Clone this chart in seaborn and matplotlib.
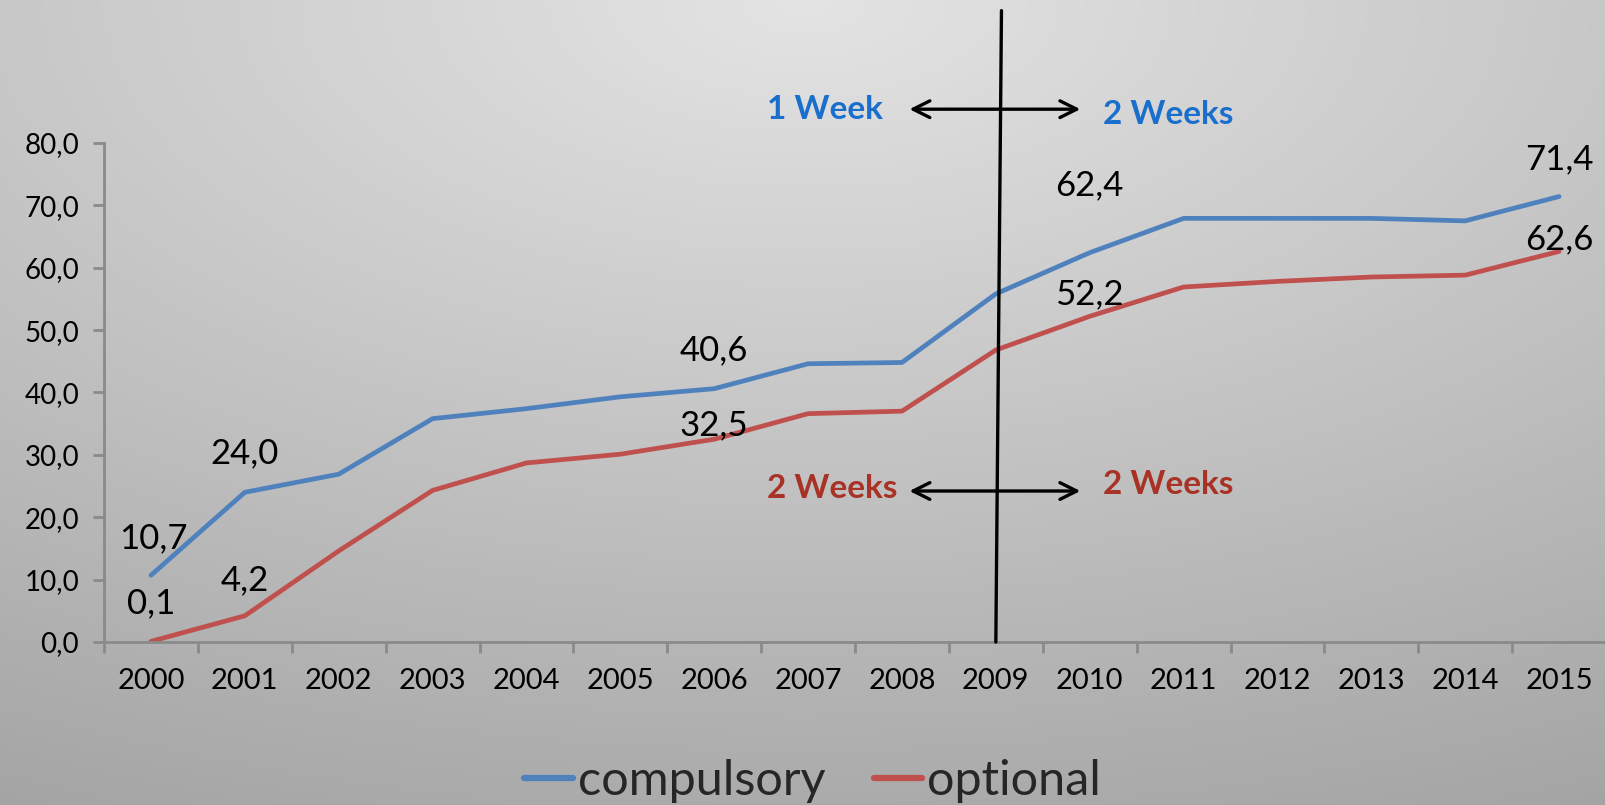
import numpy as np
import pandas as pd
import matplotlib
matplotlib.use("Agg")
import matplotlib.pyplot as plt
import seaborn as sns

years = [2000, 2001, 2002, 2003, 2004, 2005, 2006, 2007,
         2008, 2009, 2010, 2011, 2012, 2013, 2014, 2015]
compulsory = [10.7, 24.0, 26.9, 35.8, 37.4, 39.3, 40.6, 44.6,
              44.8, 55.8, 62.4, 67.9, 67.9, 67.9, 67.5, 71.4]
optional = [0.1, 4.2, 14.6, 24.3, 28.7, 30.1, 32.5, 36.6,
            37.0, 46.8, 52.2, 56.9, 57.8, 58.5, 58.8, 62.6]
series_names = ["compulsory", "optional"]
y_ticks = [0, 10, 20, 30, 40, 50, 60, 70, 80]

# labelled points: (series, year index, x offset px, y offset px)
value_labels = [
    ("compulsory", 0, 2, 37), ("optional", 0, 0, 38),
    ("compulsory", 1, 0, 39), ("optional", 1, 0, 36),
    ("compulsory", 6, 0, 38), ("optional", 6, 0, 14),
    ("compulsory", 10, 0, 67), ("optional", 10, 0, 22),
    ("compulsory", 15, 0, 37), ("optional", 15, 0, 12),
]

sns.set_theme(style="white")
plt.rcParams["font.family"] = ["Lato", "DejaVu Sans"]

W, H, DPI = 1606, 805, 100
fig = plt.figure(figsize=(W / DPI, H / DPI), dpi=DPI)

# soft gray background, brightest at the top centre
bg = fig.add_axes([0, 0, 1, 1], zorder=-10)
gx, gy = np.meshgrid(np.linspace(-0.5, 0.5, 400), np.linspace(0, 1, 200))
shade = (228 - 57 * np.sqrt(gx ** 2 + gy ** 2)) / 255.0
bg.imshow(np.dstack([shade] * 3), aspect="auto", extent=[0, 1, 1, 0],
          interpolation="bilinear")
bg.axis("off")

ax = fig.add_axes([0.0648, 0.2025, 0.9352, 0.62])
ax.patch.set_alpha(0)

df = pd.DataFrame({
    "pos": list(range(len(years))) * 2,
    "value": compulsory + optional,
    "series": ["compulsory"] * len(years) + ["optional"] * len(years),
})
palette = {"compulsory": "#4F81BD", "optional": "#C0504D"}
sns.lineplot(data=df, x="pos", y="value", hue="series", hue_order=series_names,
             palette=palette, linewidth=3.4, ax=ax, legend=False)

ax.set_xlim(-0.5, len(years) - 0.5)
ax.set_ylim(0, 80)
ax.set_xlabel("")
ax.set_ylabel("")

ax.set_yticks(y_ticks)
ax.set_yticklabels([f"{v:.1f}".replace(".", ",") for v in y_ticks], fontsize=20)
ax.set_xticks(range(len(years)))
ax.set_xticklabels([str(y) for y in years], fontsize=21)
ax.set_xticks(np.arange(-0.5, len(years), 1.0), minor=True)
ax.tick_params(axis="x", which="major", length=0, pad=19, colors="black")
ax.tick_params(axis="x", which="minor", length=8, width=2, color="#8a8a8a",
               direction="out", bottom=True)
ax.tick_params(axis="y", which="major", length=8, width=2, color="#8a8a8a",
               direction="out", left=True, pad=10)
for lab in ax.get_xticklabels() + ax.get_yticklabels():
    lab.set_color("black")

for side in ["top", "right"]:
    ax.spines[side].set_visible(False)
for side in ["left", "bottom"]:
    ax.spines[side].set_color("#8a8a8a")
    ax.spines[side].set_linewidth(2)

values = {"compulsory": compulsory, "optional": optional}
for name, i, dx, dy in value_labels:
    v = values[name][i]
    ax.annotate(f"{v:.1f}".replace(".", ","), xy=(i, v),
                xytext=(dx, dy * 72 / DPI), textcoords="offset points",
                ha="center", va="center", fontsize=25, color="black")

# policy change marker
ax.plot([9.0, 9.06], [0, 101.2], color="black", lw=2.4, clip_on=False, zorder=5)
for y_arrow in (85.4, 24.2):
    ax.annotate("", xy=(8.05, y_arrow), xytext=(9.93, y_arrow),
                arrowprops=dict(arrowstyle="<->", lw=2.4, color="black",
                                mutation_scale=30),
                annotation_clip=False)

blue_txt = "#1A6FCC"
red_txt = "#A93226"
ax.text(7.80, 85.4, "1 Week", color=blue_txt, fontsize=24, fontweight="bold",
        ha="right", va="center", clip_on=False)
ax.text(10.14, 84.5, "2 Weeks", color=blue_txt, fontsize=24, fontweight="bold",
        ha="left", va="center", clip_on=False)
ax.text(7.95, 24.6, "2 Weeks", color=red_txt, fontsize=24, fontweight="bold",
        ha="right", va="center")
ax.text(10.14, 25.3, "2 Weeks", color=red_txt, fontsize=24, fontweight="bold",
        ha="left", va="center")

handles = [plt.Line2D([], [], color=palette[n], lw=4.5) for n in series_names]
fig.legend(handles, series_names, loc="center", bbox_to_anchor=(0.506, 0.03),
           ncol=2, frameon=False, fontsize=35, handlelength=1.0,
           handletextpad=0.1, columnspacing=1.0)

fig.savefig("out.png", dpi=DPI)
